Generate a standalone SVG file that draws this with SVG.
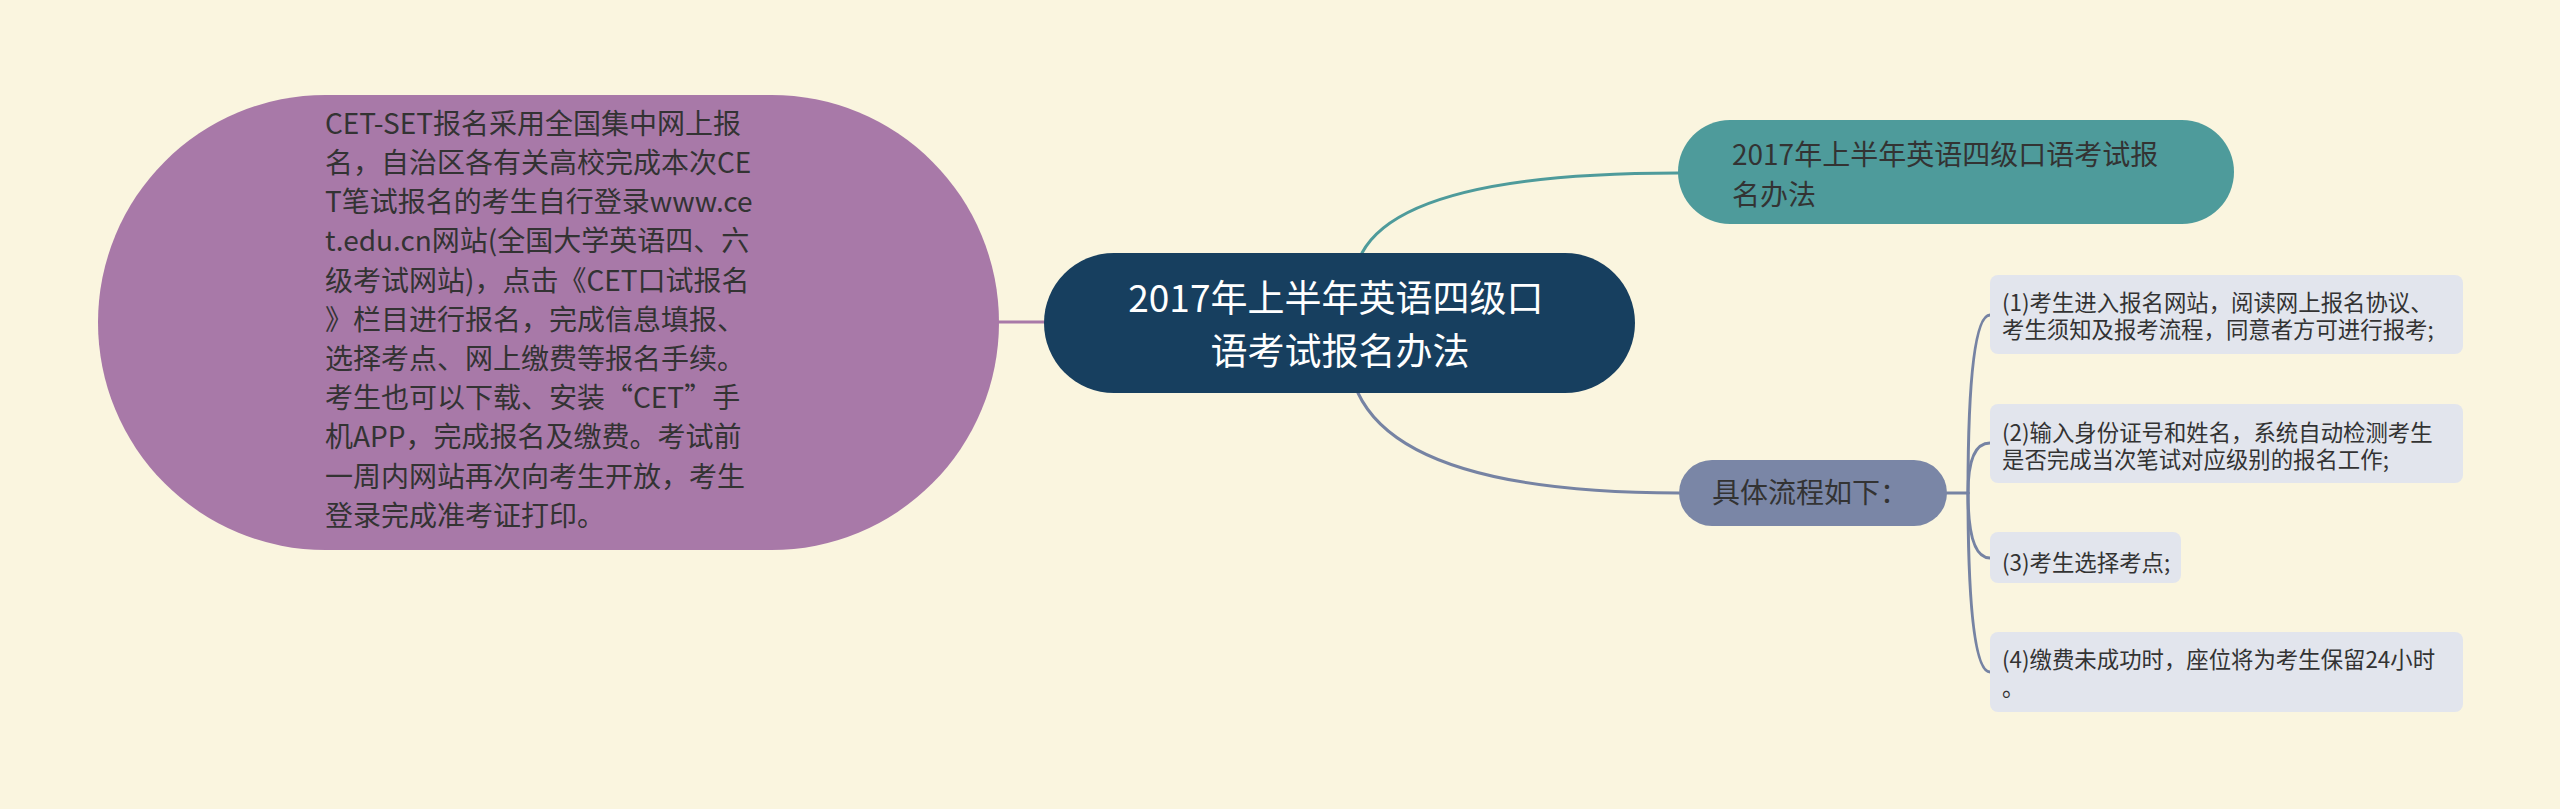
<svg xmlns="http://www.w3.org/2000/svg" width="2560" height="809" viewBox="0 0 2560 809">
<style>
text{font-family:"Noto Sans CJK SC","Noto Sans",sans-serif;}
.dark{fill:#333333;}
.conn{fill:none;stroke-width:3;stroke-linecap:round;}
.leaf{fill:#e2e5ed;}
.lt{font-size:22.4px;}
</style>
<rect x="0" y="0" width="2560" height="809" fill="#faf5df"/>
<g id="connectors">
<path class="conn" d="M999,322 L1044,322" stroke="#a879a8"/>
<path class="conn" d="M1362,253 Q1405,173 1678,173" stroke="#4e9b9b"/>
<path class="conn" d="M1358,393 Q1405,493 1679,493" stroke="#7683a3"/>
<path class="conn" d="M1947,493 L1968,493" stroke="#7683a3"/>
<path class="conn" d="M1968,493 Q1968,315 1990,315" stroke="#7683a3"/>
<path class="conn" d="M1968,493 Q1968,443 1990,443" stroke="#7683a3"/>
<path class="conn" d="M1968,493 Q1968,558 1990,558" stroke="#7683a3"/>
<path class="conn" d="M1968,493 Q1968,672 1990,672" stroke="#7683a3"/>
</g>
<g id="node-detail">
<rect x="98" y="95" width="901" height="455" rx="227.5" ry="227.5" fill="#a879a8"/>
<text class="dark" font-size="28">
<tspan x="325" y="134">CET-SET报名采用全国集中网上报</tspan>
<tspan x="325" y="173">名，自治区各有关高校完成本次CE</tspan>
<tspan x="325" y="212">T笔试报名的考生自行登录www.ce</tspan>
<tspan x="325" y="251">t.edu.cn网站(全国大学英语四、六</tspan>
<tspan x="325" y="291">级考试网站)，点击《CET口试报名</tspan>
<tspan x="325" y="330">》栏目进行报名，完成信息填报、</tspan>
<tspan x="325" y="369">选择考点、网上缴费等报名手续。</tspan>
<tspan x="325" y="408">考生也可以下载、安装“CET”手</tspan>
<tspan x="325" y="447">机APP，完成报名及缴费。考试前</tspan>
<tspan x="325" y="487">一周内网站再次向考生开放，考生</tspan>
<tspan x="325" y="526">登录完成准考证打印。</tspan>
</text>
</g>
<g id="node-center">
<rect x="1044" y="253" width="591" height="140" rx="70" ry="70" fill="#173f5f"/>
<text font-size="37" fill="#ffffff" text-anchor="middle">
<tspan x="1340" y="312">2017年上半年英语四级口</tspan>
<tspan x="1340" y="365">语考试报名办法</tspan>
</text>
</g>
<g id="node-title">
<rect x="1678" y="120" width="556" height="104" rx="52" ry="52" fill="#4e9b9b"/>
<text class="dark" font-size="28">
<tspan x="1732" y="165">2017年上半年英语四级口语考试报</tspan>
<tspan x="1732" y="205">名办法</tspan>
</text>
</g>
<g id="node-process">
<rect x="1679" y="460" width="268" height="66" rx="33" ry="33" fill="#7a86a6"/>
<text class="dark" font-size="28" x="1712" y="503">具体流程如下：</text>
</g>
<g id="leaf-1">
<rect class="leaf" x="1990" y="275" width="473" height="79" rx="8" ry="8"/>
<text class="dark lt">
<tspan x="2002" y="311">(1)考生进入报名网站，阅读网上报名协议、</tspan>
<tspan x="2002" y="338">考生须知及报考流程，同意者方可进行报考;</tspan>
</text>
</g>
<g id="leaf-2">
<rect class="leaf" x="1990" y="404" width="473" height="79" rx="8" ry="8"/>
<text class="dark lt">
<tspan x="2002" y="441">(2)输入身份证号和姓名，系统自动检测考生</tspan>
<tspan x="2002" y="468">是否完成当次笔试对应级别的报名工作;</tspan>
</text>
</g>
<g id="leaf-3">
<rect class="leaf" x="1990" y="532" width="191" height="51" rx="8" ry="8"/>
<text class="dark lt" x="2002" y="571">(3)考生选择考点;</text>
</g>
<g id="leaf-4">
<rect class="leaf" x="1990" y="632" width="473" height="80" rx="8" ry="8"/>
<text class="dark lt">
<tspan x="2002" y="668">(4)缴费未成功时，座位将为考生保留24小时</tspan>
<tspan x="2002" y="696">。</tspan>
</text>
</g>
</svg>
